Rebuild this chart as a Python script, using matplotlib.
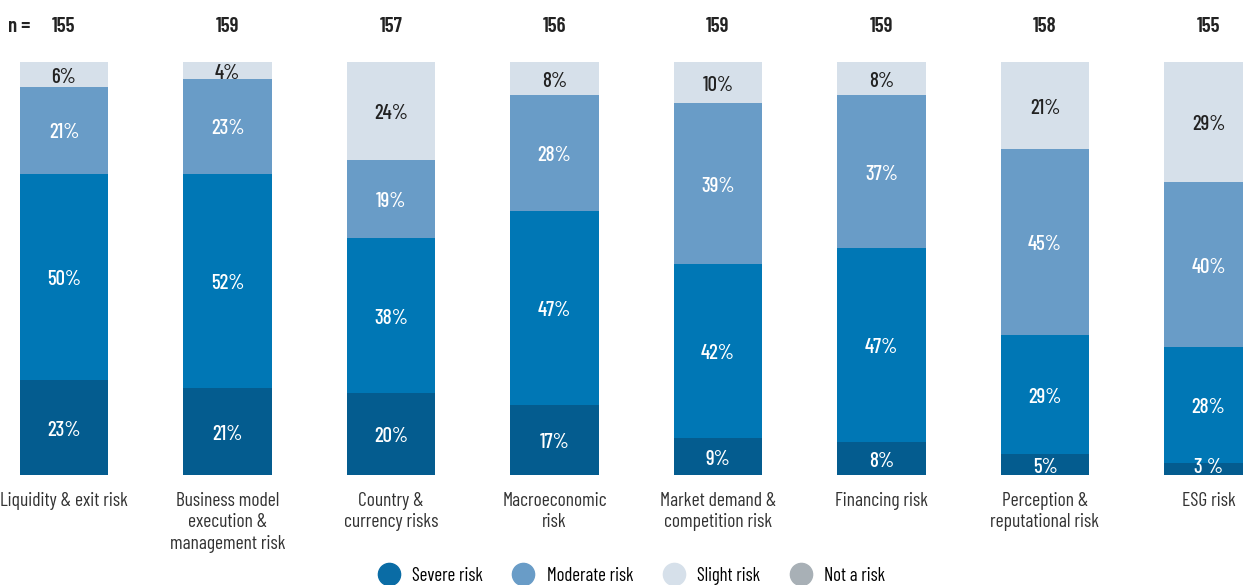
import matplotlib
matplotlib.use("Agg")
import matplotlib.pyplot as plt
from matplotlib import font_manager
from matplotlib.lines import Line2D
import numpy as np

# Chart data
categories = [
    "Liquidity & exit risk",
    "Business model\nexecution &\nmanagement risk",
    "Country &\ncurrency risks",
    "Macroeconomic\nrisk",
    "Market demand &\ncompetition risk",
    "Financing risk",
    "Perception &\nreputational risk",
    "ESG risk",
]
n_counts = [155, 159, 157, 156, 159, 159, 158, 155]
severe = [23, 21, 20, 17, 9, 8, 5, 3]
moderate = [50, 52, 38, 47, 42, 47, 29, 28]
slight = [21, 23, 19, 28, 39, 37, 45, 40]
not_risk = [6, 4, 24, 8, 10, 8, 21, 29]
legend_labels = ["Severe risk", "Moderate risk", "Slight risk", "Not a risk"]

# condensed font if available, otherwise plain DejaVu
FAMILY = ["Barlow Condensed", "DejaVu Sans"]
FONT = dict(family=FAMILY)

bar_colors = ["#045c8f", "#0077b5", "#699cc7", "#d6e0ea"]
text_colors = ["white", "white", "white", "#222222"]
legend_colors = ["#0a6ca5", "#699cc7", "#d6e0ea", "#a8b0b6"]

fig = plt.figure(figsize=(12.43, 5.85), dpi=100)
ax = fig.add_axes([0, 110 / 585, 1, 413 / 585])

series = np.array([severe, moderate, slight, not_risk], dtype=float)
shares = series / series.sum(axis=0) * 100
x = np.arange(len(categories))
width = 0.54

bottom = np.zeros(len(categories))
for i, (vals, pct) in enumerate(zip(series, shares)):
    ax.bar(x, pct, width, bottom=bottom, color=bar_colors[i], linewidth=0)
    for j in range(len(x)):
        lab = f"{int(vals[j])}%" if not (i == 0 and j == 7) else f"{int(vals[j])} %"
        # tiny segments get their label nudged up a bit
        dy = 1 if pct[j] < 4 else -2
        ax.annotate(lab, (x[j], bottom[j] + pct[j] / 2), xytext=(0, dy),
                    textcoords="offset points", ha="center", va="center",
                    color=text_colors[i], fontsize=15, fontweight="medium",
                    annotation_clip=False, zorder=5, **FONT)
    bottom += pct

ax.set_xlim(-64 / 163.5, (1243 - 64) / 163.5)
ax.set_ylim(0, 100)
ax.axis("off")

# category labels under the bars, n counts on top
for j, cat in enumerate(categories):
    ax.text(x[j], -4.0, cat, ha="center", va="top", fontsize=14,
            color="#333333", linespacing=1.25, clip_on=False, **FONT)
    ax.text(x[j], 108.6, str(n_counts[j]), ha="center", va="center",
            fontsize=15, fontweight="semibold", color="#222222", clip_on=False, **FONT)
fig.text(8 / 1243, 1 - 27 / 585, "n =", ha="left", va="center", fontsize=15,
         fontweight="semibold", color="#222222", **FONT)

handles = [Line2D([], [], marker="o", ls="", markersize=16, color=c) for c in legend_colors]
fig.legend(handles, legend_labels, loc="center", bbox_to_anchor=(0.505, 1 - 576 / 585),
           ncol=4, frameon=False, handletextpad=0.25, columnspacing=1.15,
           prop=font_manager.FontProperties(size=13.5, family=FAMILY))

fig.savefig("out.png", dpi=100)
